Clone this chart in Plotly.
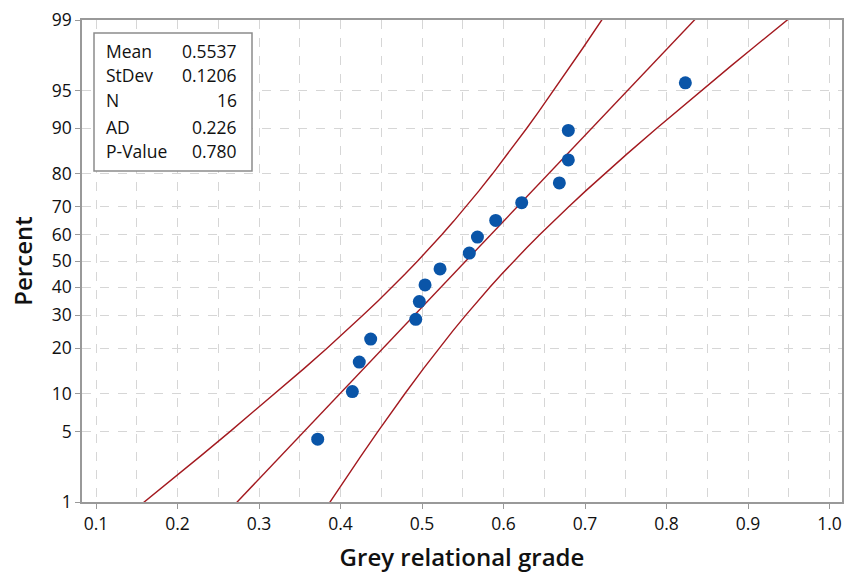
import plotly.graph_objects as go
from statistics import NormalDist

# ---- data ----
grade = [0.372, 0.4145, 0.423, 0.437, 0.4923, 0.4967, 0.5037, 0.5221,
         0.558, 0.568, 0.5904, 0.6223, 0.6685, 0.6795, 0.6795, 0.8231]
percent = [4.27, 10.37, 16.46, 22.56, 28.66, 34.76, 40.85, 46.95,
           53.05, 59.15, 65.24, 71.34, 77.44, 83.54, 89.63, 95.73]
MEAN = 0.5537
STDEV = 0.1206
N = 16
AD = 0.226
PVAL = 0.780
y_ticks = [1, 5, 10, 20, 30, 40, 50, 60, 70, 80, 90, 95, 99]
x_ticks = [0.1, 0.2, 0.3, 0.4, 0.5, 0.6, 0.7, 0.8, 0.9, 1.0]
band_pcts = [0.5, 1, 2, 3, 5, 7.5, 10, 15, 20, 25, 30, 35, 40, 45, 50,
             55, 60, 65, 70, 75, 80, 85, 90, 92.5, 95, 97, 98, 99, 99.5]

nd = NormalDist()
def probit(p):
    return nd.inv_cdf(p / 100.0)

# fitted line and 95% confidence bands (normal percentile CI)
zs = [probit(p) for p in band_pcts]
fit_x = [MEAN + z * STDEV for z in zs]
half = [1.96 * STDEV * (1.0 / N + z * z / (2.0 * N)) ** 0.5 for z in zs]
low_x = [f - h for f, h in zip(fit_x, half)]
up_x = [f + h for f, h in zip(fit_x, half)]

RED = "#A3191F"
BLUE = "#0A55A8"
FONT = "Open Sans"

fig = go.Figure()
for xs in (low_x, fit_x, up_x):
    fig.add_trace(go.Scatter(x=xs, y=zs, mode="lines",
                             line=dict(color=RED, width=1.4),
                             hoverinfo="skip", showlegend=False))
fig.add_trace(go.Scatter(x=grade, y=[probit(p) for p in percent], mode="markers",
                         marker=dict(color=BLUE, size=13),
                         showlegend=False))

grid = dict(showgrid=True, gridcolor="#D6D6D6", griddash="dash", gridwidth=1.2)
fig.update_xaxes(range=[0.0828, 1.0153], tickvals=x_ticks,
                 ticktext=[f"{v:.1f}" for v in x_ticks],
                 minor=dict(dtick=0.05, tick0=0.05, showgrid=True, gridcolor="#D6D6D6",
                            griddash="dash", gridwidth=1.2),
                 ticks="outside", ticklen=5, tickcolor="#999999",
                 showline=True, linecolor="#999999", linewidth=1.5, mirror=True,
                 zeroline=False, automargin=False,
                 title=dict(text="Grey relational grade",
                            font=dict(size=24, color="#111111", weight=600),
                            standoff=16),
                 tickfont=dict(size=17.5, color="#111111"), **grid)
fig.update_yaxes(range=[probit(1), probit(99)],
                 tickvals=[probit(v) for v in y_ticks],
                 ticktext=[str(v) for v in y_ticks],
                 ticks="outside", ticklen=5, tickcolor="#999999",
                 showline=True, linecolor="#999999", linewidth=1.5, mirror=True,
                 zeroline=False, automargin=False,
                 title=dict(text="Percent", font=dict(size=24, color="#111111", weight=600),
                            standoff=12),
                 tickfont=dict(size=17.5, color="#111111"), **grid)

L, R, T, B = 82, 842, 20, 502
W = R - L
H = B - T
def px(x):
    return (x - L) / W
def py(y):
    return (B - y) / H

fig.add_shape(type="rect", xref="paper", yref="paper",
              x0=px(94), x1=px(252), y0=py(171), y1=py(33),
              line=dict(color="#8C8C8C", width=1.5), fillcolor="white", layer="above")
labels = ["Mean", "StDev", "N", "AD", "P-Value"]
values = [f"{MEAN:.4f}", f"{STDEV:.4f}", f"{N}", f"{AD:.3f}", f"{PVAL:.3f}"]
rows = [51, 75, 100, 127, 151]
for lab, val, r in zip(labels, values, rows):
    fig.add_annotation(xref="paper", yref="paper", x=px(104), y=py(r), text=lab,
                       showarrow=False, xanchor="left", yanchor="middle",
                       font=dict(size=17.5, color="#111111", family=FONT))
    fig.add_annotation(xref="paper", yref="paper", x=px(239), y=py(r), text=val,
                       showarrow=False, xanchor="right", yanchor="middle",
                       font=dict(size=17.5, color="#111111", family=FONT))

fig.update_layout(width=854, height=573,
                  margin=dict(l=L, r=854 - R, t=T, b=573 - B),
                  paper_bgcolor="white", plot_bgcolor="white",
                  font=dict(family=FONT, color="#111111"))
fig.write_html("out.html")
